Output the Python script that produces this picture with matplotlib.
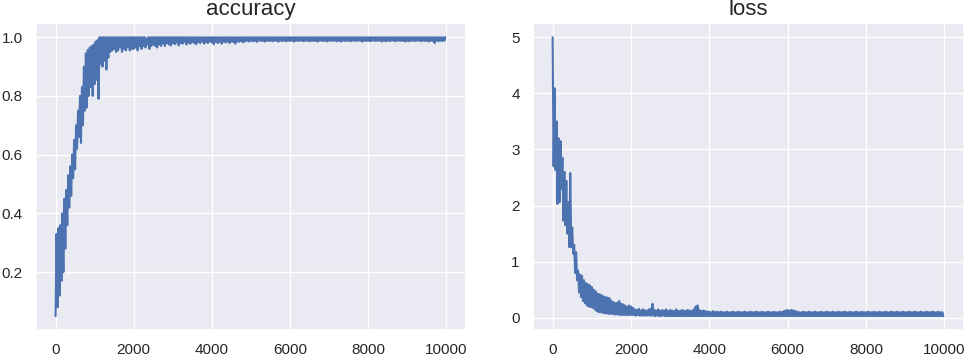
import numpy as np
import matplotlib
matplotlib.use('Agg')
import matplotlib.pyplot as plt
import seaborn as sns

sns.set_theme()
plt.rcParams['font.family'] = ['Liberation Sans', 'DejaVu Sans']
# keep the dense up/down noise, don't let matplotlib collapse it
plt.rcParams['path.simplify'] = False

# training step of every sampled value (one every 25 steps)
steps = list(range(0, 10000, 25))

# accuracy values (alternating bottom / top of the noisy band)
accuracy = [
    0.05, 0.33, 0.08, 0.35, 0.12, 0.36, 0.17, 0.40, 0.20, 0.45,
    0.28, 0.48, 0.36, 0.53, 0.42, 0.56, 0.46, 0.60, 0.52, 0.65,
    0.55, 0.70, 0.62, 0.75, 0.66, 0.80, 0.64, 0.83, 0.70, 0.90,
    0.75, 0.945, 0.76, 0.957, 0.80, 0.965, 0.83, 0.97, 0.80, 0.975,
    0.84, 0.985, 0.855, 0.99, 0.79, 1.00, 0.91, 1.00, 0.90, 1.00,
    0.92, 1.00, 0.89, 1.00, 0.93, 1.00, 0.95, 1.00, 0.955, 1.00,
    0.96, 1.00, 0.95, 1.00, 0.955, 1.00, 0.965, 1.00, 0.95, 1.00,
    0.96, 1.00, 0.955, 1.00, 0.965, 1.00, 0.955, 1.00, 0.96, 1.00,
    0.96, 1.00, 0.965, 1.00, 0.955, 1.00, 0.97, 1.00, 0.96, 1.00,
    0.97, 1.00, 0.965, 0.995, 0.975, 1.00, 0.96, 1.00, 0.97, 1.00,
    0.975, 1.00, 0.97, 1.00, 0.965, 1.00, 0.975, 1.00, 0.97, 1.00,
    0.978, 1.00, 0.97, 1.00, 0.98, 1.00, 0.975, 1.00, 0.972, 1.00,
    0.98, 1.00, 0.976, 1.00, 0.982, 1.00, 0.972, 1.00, 0.98, 1.00,
    0.978, 1.00, 0.984, 1.00, 0.975, 1.00, 0.982, 1.00, 0.978, 1.00,
    0.983, 1.00, 0.98, 1.00, 0.976, 1.00, 0.984, 1.00, 0.98, 1.00,
    0.985, 1.00, 0.978, 1.00, 0.983, 1.00, 0.98, 1.00, 0.985, 1.00,
    0.982, 1.00, 0.976, 1.00, 0.985, 1.00, 0.98, 1.00, 0.984, 1.00,
    0.978, 1.00, 0.985, 1.00, 0.982, 1.00, 0.986, 1.00, 0.98, 1.00,
    0.985, 1.00, 0.983, 1.00, 0.978, 1.00, 0.986, 1.00, 0.984, 1.00,
    0.987, 1.00, 0.982, 1.00, 0.986, 1.00, 0.988, 1.00, 0.985, 1.00,
    0.988, 1.00, 0.986, 1.00, 0.988, 1.00, 0.984, 1.00, 0.988, 1.00,
    0.987, 1.00, 0.988, 1.00, 0.985, 1.00, 0.988, 1.00, 0.987, 1.00,
    0.988, 1.00, 0.986, 1.00, 0.988, 1.00, 0.988, 1.00, 0.985, 1.00,
    0.988, 1.00, 0.987, 1.00, 0.988, 1.00, 0.986, 1.00, 0.988, 1.00,
    0.987, 1.00, 0.988, 1.00, 0.985, 1.00, 0.988, 1.00, 0.987, 1.00,
    0.988, 1.00, 0.988, 1.00, 0.986, 1.00, 0.988, 1.00, 0.988, 1.00,
    0.986, 1.00, 0.988, 1.00, 0.987, 1.00, 0.988, 1.00, 0.985, 1.00,
    0.988, 1.00, 0.988, 1.00, 0.987, 1.00, 0.988, 1.00, 0.986, 1.00,
    0.988, 1.00, 0.987, 1.00, 0.988, 1.00, 0.988, 1.00, 0.986, 1.00,
    0.988, 1.00, 0.985, 1.00, 0.988, 1.00, 0.987, 1.00, 0.988, 1.00,
    0.988, 1.00, 0.986, 1.00, 0.988, 1.00, 0.988, 1.00, 0.987, 1.00,
    0.988, 1.00, 0.988, 1.00, 0.985, 1.00, 0.988, 1.00, 0.987, 1.00,
    0.988, 1.00, 0.986, 1.00, 0.988, 1.00, 0.988, 1.00, 0.987, 1.00,
    0.988, 1.00, 0.988, 1.00, 0.985, 1.00, 0.988, 1.00, 0.986, 1.00,
    0.988, 1.00, 0.987, 1.00, 0.988, 1.00, 0.988, 1.00, 0.986, 1.00,
    0.988, 1.00, 0.988, 1.00, 0.987, 1.00, 0.988, 1.00, 0.985, 1.00,
    0.988, 1.00, 0.986, 1.00, 0.988, 1.00, 0.988, 1.00, 0.987, 1.00,
    0.988, 1.00, 0.988, 1.00, 0.986, 1.00, 0.988, 1.00, 0.987, 1.00,
    0.988, 1.00, 0.985, 1.00, 0.988, 1.00, 0.987, 1.00, 0.980, 1.00,
    0.988, 1.00, 0.986, 1.00, 0.988, 1.00, 0.987, 1.00, 0.988, 1.00,
]

# loss values (alternating top / bottom of the noisy band)
loss = [
    5.00, 2.70, 4.09, 2.63, 3.50, 2.03, 3.20, 2.06, 3.15, 2.30,
    2.85, 1.73, 2.60, 1.65, 2.44, 1.50, 2.06, 1.26, 2.58, 1.26,
    1.61, 1.14, 1.30, 0.80, 1.17, 0.67, 0.84, 0.45, 0.77, 0.37,
    0.75, 0.30, 0.67, 0.26, 0.62, 0.22, 0.60, 0.20, 0.58, 0.19,
    0.55, 0.18, 0.50, 0.15, 0.47, 0.12, 0.43, 0.10, 0.42, 0.10,
    0.40, 0.09, 0.38, 0.08, 0.37, 0.08, 0.36, 0.07, 0.35, 0.07,
    0.30, 0.07, 0.28, 0.06, 0.26, 0.06, 0.27, 0.06, 0.30, 0.05,
    0.25, 0.05, 0.24, 0.05, 0.22, 0.05, 0.20, 0.05, 0.22, 0.05,
    0.20, 0.05, 0.18, 0.05, 0.15, 0.04, 0.14, 0.05, 0.16, 0.04,
    0.13, 0.04, 0.15, 0.04, 0.14, 0.04, 0.12, 0.04, 0.15, 0.04,
    0.16, 0.04, 0.25, 0.04, 0.14, 0.03, 0.13, 0.04, 0.15, 0.03,
    0.12, 0.03, 0.14, 0.04, 0.13, 0.03, 0.15, 0.03, 0.12, 0.03,
    0.14, 0.03, 0.13, 0.03, 0.12, 0.03, 0.15, 0.03, 0.13, 0.03,
    0.12, 0.03, 0.14, 0.03, 0.13, 0.03, 0.12, 0.03, 0.14, 0.03,
    0.13, 0.03, 0.12, 0.03, 0.15, 0.03, 0.20, 0.03, 0.22, 0.03,
    0.14, 0.03, 0.12, 0.03, 0.13, 0.03, 0.12, 0.03, 0.11, 0.03,
    0.11, 0.03, 0.10, 0.03, 0.12, 0.03, 0.10, 0.03, 0.11, 0.03,
    0.10, 0.03, 0.11, 0.03, 0.10, 0.03, 0.10, 0.03, 0.11, 0.03,
    0.10, 0.03, 0.10, 0.03, 0.11, 0.03, 0.10, 0.03, 0.10, 0.03,
    0.11, 0.03, 0.10, 0.03, 0.10, 0.03, 0.11, 0.03, 0.10, 0.03,
    0.10, 0.03, 0.11, 0.03, 0.10, 0.03, 0.10, 0.03, 0.11, 0.03,
    0.10, 0.03, 0.10, 0.03, 0.11, 0.03, 0.10, 0.03, 0.10, 0.03,
    0.11, 0.03, 0.10, 0.03, 0.10, 0.03, 0.11, 0.03, 0.10, 0.03,
    0.10, 0.03, 0.11, 0.03, 0.10, 0.03, 0.12, 0.03, 0.13, 0.03,
    0.14, 0.03, 0.13, 0.03, 0.14, 0.03, 0.13, 0.03, 0.12, 0.03,
    0.11, 0.03, 0.10, 0.03, 0.10, 0.03, 0.11, 0.03, 0.10, 0.03,
    0.10, 0.03, 0.11, 0.03, 0.10, 0.03, 0.10, 0.03, 0.11, 0.03,
    0.10, 0.03, 0.10, 0.03, 0.11, 0.03, 0.10, 0.03, 0.10, 0.03,
    0.11, 0.03, 0.10, 0.03, 0.10, 0.03, 0.11, 0.03, 0.10, 0.03,
    0.10, 0.03, 0.11, 0.03, 0.10, 0.03, 0.10, 0.03, 0.11, 0.03,
    0.10, 0.03, 0.10, 0.03, 0.11, 0.03, 0.10, 0.03, 0.10, 0.03,
    0.11, 0.03, 0.10, 0.03, 0.10, 0.03, 0.11, 0.03, 0.10, 0.03,
    0.10, 0.03, 0.11, 0.03, 0.10, 0.03, 0.10, 0.03, 0.11, 0.03,
    0.10, 0.03, 0.10, 0.03, 0.11, 0.03, 0.10, 0.03, 0.10, 0.03,
    0.11, 0.03, 0.10, 0.03, 0.10, 0.03, 0.11, 0.03, 0.10, 0.03,
    0.10, 0.03, 0.11, 0.03, 0.10, 0.03, 0.10, 0.03, 0.11, 0.03,
    0.10, 0.03, 0.10, 0.03, 0.11, 0.03, 0.10, 0.03, 0.10, 0.03,
    0.11, 0.03, 0.10, 0.03, 0.10, 0.03, 0.11, 0.03, 0.10, 0.03,
    0.10, 0.03, 0.11, 0.03, 0.10, 0.03, 0.10, 0.03, 0.11, 0.03,
    0.10, 0.03, 0.10, 0.03, 0.11, 0.03, 0.10, 0.03, 0.10, 0.03,
]

fig = plt.figure(figsize=(9.66, 3.58), dpi=100)
ax1 = fig.add_axes([0.0373, 0.078, 0.445, 0.857])
ax2 = fig.add_axes([0.5518, 0.078, 0.446, 0.857])

for ax, vals, name in [(ax1, accuracy, 'accuracy'), (ax2, loss, 'loss')]:
    ax.plot(steps, vals, color='#4c72b0', linewidth=1.5)
    ax.set_title(name, fontsize=16)
    ax.set_xlim(-500, 10500)
    ax.set_xticks([0, 2000, 4000, 6000, 8000, 10000])
    ax.tick_params(labelsize=11)

ax1.set_yticks([0.2, 0.4, 0.6, 0.8, 1.0])
ax2.set_yticks([0, 1, 2, 3, 4, 5])

fig.savefig('out.png', dpi=100)
